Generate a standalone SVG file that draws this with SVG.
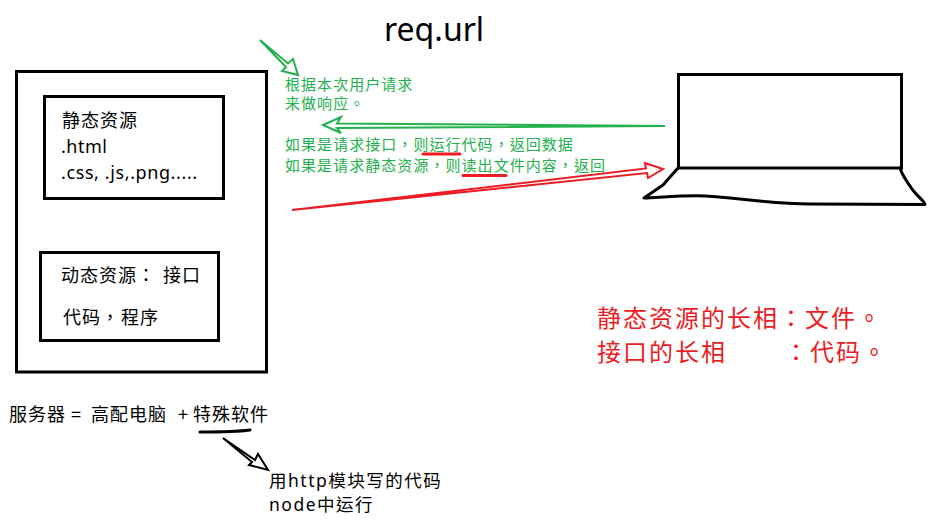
<svg xmlns="http://www.w3.org/2000/svg" width="940" height="522" viewBox="0 0 940 522">
<style>
text{font-family:"Noto Sans","Noto Sans CJK TC",sans-serif;fill:#000}
.cjk{font-family:"Noto Sans CJK TC",sans-serif}
.box{fill:none;stroke:#000;stroke-width:3}
.b{font-size:18px;letter-spacing:1px}
.g{font-size:15px;fill:#22b14c;letter-spacing:1.050px}
.r{font-size:24px;fill:#ed1c24;letter-spacing:2px}
.gl{fill:none;stroke:#22b14c;stroke-width:2;stroke-linejoin:miter}
.rl{fill:none;stroke:#ed1c24;stroke-width:2}
.u{fill:none;stroke:#ed1c24;stroke-width:3;stroke-linecap:round}
.k{fill:none;stroke:#000;stroke-width:2}
</style>
<rect width="940" height="522" fill="#fff"/>
<text x="384" y="41" style="font-size:32px">req.url</text>
<g id="server"><rect class="box" x="16.500" y="71.500" width="250" height="300.500"/></g>
<g id="static-resources"><rect class="box" x="44.500" y="96.500" width="179" height="102"/>
<text class="b cjk" x="62" y="127">静态资源</text>
<text class="b" x="61" y="153" style="letter-spacing:.5px">.html</text>
<text class="b" x="61" y="179" style="letter-spacing:.6px">.css, .js,.png.....</text></g>
<g id="dynamic-resources"><rect class="box" x="40.500" y="252.500" width="178" height="88"/>
<text class="b cjk" x="61" y="282">动态资源：<tspan x="163">接口</tspan></text>
<text class="b cjk" x="63" y="324">代码，<tspan x="121">程序</tspan></text></g>
<g id="laptop"><rect class="box" x="678.500" y="74.500" width="223" height="93.500"/>
<path d="M678 168L663 185L644 198C665 197 690 195 705 196C740 198 770 204 810 204L925 204.500C926 202 915 195 910 186C906 180 902 175 900 168" fill="none" stroke="#000" stroke-width="3" stroke-linejoin="round" stroke-linecap="round"/></g>
<g id="connectors">
<path class="gl" d="M260 40L288 63.500L293 59L298 75L282 71L286 67Z"/>
<path class="gl" d="M665 126L337 123.500L341 117L323 125L341 133L337 128Z"/>
<path class="rl" d="M292 210L646 168.500L645 163L663 169L648 178L647 173Z"/>
<path class="u" d="M423 154L460 154"/>
<path class="u" d="M463 175.500L506 175.500"/>
<path d="M200 432C215 432 235 432 250 430" fill="none" stroke="#000" stroke-width="3" stroke-linecap="round"/>
<path class="k" d="M223 438L255 460L258 454L268 470L249 465L252 462Z"/>
</g>
<g id="note-green">
<text class="g cjk" x="285" y="90">根据本次用户请求</text>
<text class="g cjk" x="285" y="109">来做响应。</text>
<text class="g cjk" x="285" y="150">如果是请求接口，则运行代码，返回数据</text>
<text class="g cjk" x="285" y="171">如果是请求静态资源，则读出文件内容，返回</text>
</g>
<g id="note-red">
<text class="r cjk" x="597" y="327">静态资源的长相：文件。</text>
<text class="r cjk" x="597" y="361">接口的长相<tspan x="784">：代码。</tspan></text>
</g>
<g id="server-equation">
<text class="b cjk" x="9" y="421">服务器</text>
<text class="b cjk" x="71" y="421">=</text>
<text class="b cjk" x="91" y="421">高配电脑</text>
<text class="b cjk" x="178" y="421">+</text>
<text class="b cjk" x="193" y="421">特殊软件</text>
</g>
<g id="software-note">
<text class="b" x="269" y="486.500" style="font-size:17.500px;letter-spacing:1.500px">用http模块写的代码</text>
<text class="b" x="269" y="510.500" style="font-size:17.500px;letter-spacing:1.500px">node中运行</text>
</g>
</svg>
